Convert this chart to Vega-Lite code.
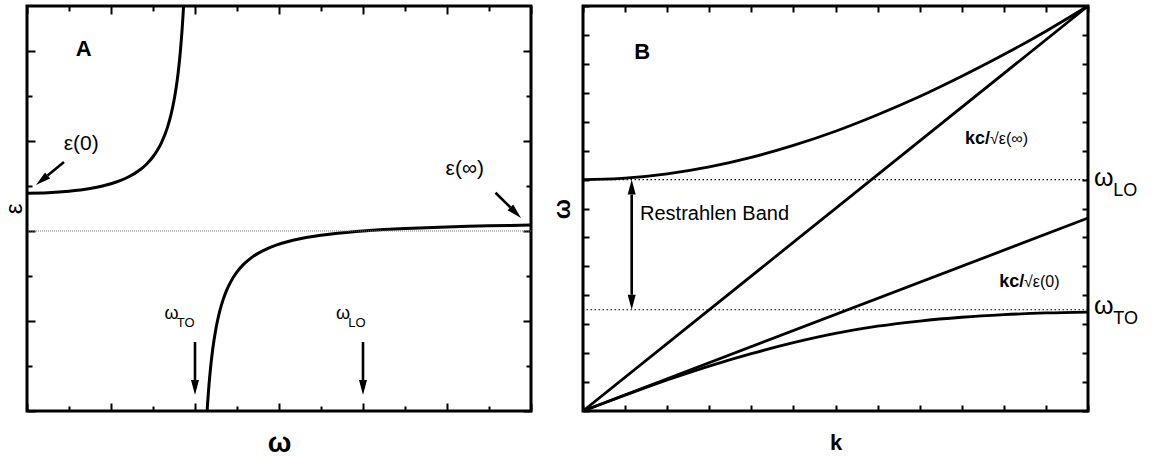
{
  "$schema": "https://vega.github.io/schema/vega-lite/v6.json",
  "background": "white",
  "padding": {"left": 0, "top": -2, "right": 5, "bottom": 5},
  "bounds": "flush",
  "spacing": 52,
  "config": {
    "font": "Liberation Sans",
    "view": {"stroke": "black", "strokeWidth": 3},
    "axis": {
      "domain": false, "grid": false, "labels": false,
      "tickColor": "black", "tickWidth": 2,
      "minExtent": 0, "maxExtent": 0,
      "titleColor": "black", "titleFont": "Liberation Sans"
    }
  },
  "hconcat": [
    {
      "width": 504,
      "height": 405,
      "resolve": {"axis": {"x": "independent", "y": "independent"}},
      "layer": [
        {
          "data": {"values": [
            {"branch": "low", "omega": 0, "eps": 0.84},
            {"branch": "low", "omega": 0.5, "eps": 0.85},
            {"branch": "low", "omega": 1, "eps": 0.882},
            {"branch": "low", "omega": 1.5, "eps": 0.943},
            {"branch": "low", "omega": 1.8, "eps": 1.0},
            {"branch": "low", "omega": 2, "eps": 1.05},
            {"branch": "low", "omega": 2.2, "eps": 1.113},
            {"branch": "low", "omega": 2.4, "eps": 1.194},
            {"branch": "low", "omega": 2.7, "eps": 1.367},
            {"branch": "low", "omega": 2.85, "eps": 1.49},
            {"branch": "low", "omega": 3.0, "eps": 1.65},
            {"branch": "low", "omega": 3.1, "eps": 1.788},
            {"branch": "low", "omega": 3.2, "eps": 1.96},
            {"branch": "low", "omega": 3.35, "eps": 2.32},
            {"branch": "low", "omega": 3.43, "eps": 2.59},
            {"branch": "low", "omega": 3.5, "eps": 2.898},
            {"branch": "low", "omega": 3.55, "eps": 3.177},
            {"branch": "low", "omega": 3.6, "eps": 3.526},
            {"branch": "low", "omega": 3.65, "eps": 3.975},
            {"branch": "low", "omega": 3.68, "eps": 4.312},
            {"branch": "low", "omega": 3.7, "eps": 4.574},
            {"branch": "low", "omega": 3.715, "eps": 4.794},
            {"branch": "low", "omega": 3.728, "eps": 5.0},
            {"branch": "high", "omega": 4.289, "eps": -4.0},
            {"branch": "high", "omega": 4.3, "eps": -3.838},
            {"branch": "high", "omega": 4.32, "eps": -3.576},
            {"branch": "high", "omega": 4.36, "eps": -3.139},
            {"branch": "high", "omega": 4.4, "eps": -2.79},
            {"branch": "high", "omega": 4.42, "eps": -2.64},
            {"branch": "high", "omega": 4.5, "eps": -2.162},
            {"branch": "high", "omega": 4.55, "eps": -1.934},
            {"branch": "high", "omega": 4.6, "eps": -1.744},
            {"branch": "high", "omega": 4.67, "eps": -1.525},
            {"branch": "high", "omega": 4.75, "eps": -1.326},
            {"branch": "high", "omega": 4.85, "eps": -1.13},
            {"branch": "high", "omega": 5.0, "eps": -0.91},
            {"branch": "high", "omega": 5.15, "eps": -0.748},
            {"branch": "high", "omega": 5.3, "eps": -0.624},
            {"branch": "high", "omega": 5.5, "eps": -0.497},
            {"branch": "high", "omega": 5.7, "eps": -0.401},
            {"branch": "high", "omega": 5.95, "eps": -0.31},
            {"branch": "high", "omega": 6.2, "eps": -0.239},
            {"branch": "high", "omega": 6.5, "eps": -0.174},
            {"branch": "high", "omega": 6.8, "eps": -0.123},
            {"branch": "high", "omega": 7.0, "eps": -0.096},
            {"branch": "high", "omega": 7.4, "eps": -0.05},
            {"branch": "high", "omega": 8.0, "eps": 0},
            {"branch": "high", "omega": 8.5, "eps": 0.031},
            {"branch": "high", "omega": 9.0, "eps": 0.055},
            {"branch": "high", "omega": 9.5, "eps": 0.074},
            {"branch": "high", "omega": 10.0, "eps": 0.09},
            {"branch": "high", "omega": 10.5, "eps": 0.103},
            {"branch": "high", "omega": 11.0, "eps": 0.114},
            {"branch": "high", "omega": 11.5, "eps": 0.123},
            {"branch": "high", "omega": 12.0, "eps": 0.131}
          ]},
          "mark": {"type": "line", "color": "black", "strokeWidth": 3, "interpolate": "monotone"},
          "encoding": {
            "x": {"field": "omega", "type": "quantitative",
                  "scale": {"domain": [0, 12], "nice": false, "zero": false},
                  "axis": {"orient": "bottom", "values": [0, 2, 4, 6, 8, 10, 12], "tickSize": -8,
                           "title": "ω", "titleFontSize": 28, "titleFontWeight": "bold", "titlePadding": 18}},
            "y": {"field": "eps", "type": "quantitative",
                  "scale": {"domain": [-4, 5], "nice": false, "zero": false},
                  "axis": {"orient": "left", "values": [-4, -2, 0, 2, 4], "tickSize": -8,
                           "title": "ε", "titleFontSize": 24, "titleFontWeight": "normal", "titlePadding": 1}},
            "detail": {"field": "branch"}
          }
        },
        {
          "data": {"values": [{"eps": 0}]},
          "mark": {"type": "rule", "color": "#777777", "strokeWidth": 1, "strokeDash": [1, 1]},
          "encoding": {"y": {"field": "eps", "type": "quantitative", "axis": null}}
        },
        {
          "data": {"values": [
            {"x1": 0.881, "y1": 1.533, "x2": 0.49, "y2": 1.233},
            {"x1": 11.155, "y1": 0.851, "x2": 11.508, "y2": 0.524},
            {"x1": 4, "y1": -2.467, "x2": 4, "y2": -3.311},
            {"x1": 8, "y1": -2.467, "x2": 8, "y2": -3.311}
          ]},
          "mark": {"type": "rule", "color": "black", "strokeWidth": 2.6},
          "encoding": {
            "x": {"field": "x1", "type": "quantitative",
                  "axis": {"orient": "top", "values": [0, 2, 4, 6, 8, 10, 12], "tickSize": -8, "title": null}},
            "x2": {"field": "x2"},
            "y": {"field": "y1", "type": "quantitative",
                  "axis": {"orient": "right", "values": [-4, -2, 0, 2, 4], "tickSize": -8, "title": null}},
            "y2": {"field": "y2"}
          }
        },
        {
          "data": {"values": [{"omega": 4, "eps": -3.644}, {"omega": 8, "eps": -3.644}]},
          "mark": {"type": "point", "shape": "M0,0L-0.4,1.5L0.4,1.5Z", "size": 400, "angle": 180,
                   "filled": true, "color": "black", "opacity": 1, "strokeWidth": 0},
          "encoding": {
            "x": {"field": "omega", "type": "quantitative",
                  "axis": {"orient": "bottom", "values": [1, 3, 5, 7, 9, 11], "tickSize": -5, "title": null}},
            "y": {"field": "eps", "type": "quantitative",
                  "axis": {"orient": "left", "values": [-3, -1, 1, 3], "tickSize": -5, "title": null}}
          }
        },
        {
          "data": {"values": [{"omega": 0.214, "eps": 1.022}]},
          "mark": {"type": "point", "shape": "M0,0L-0.4,1.5L0.4,1.5Z", "size": 400, "angle": 230.6,
                   "filled": true, "color": "black", "opacity": 1, "strokeWidth": 0},
          "encoding": {
            "x": {"field": "omega", "type": "quantitative",
                  "axis": {"orient": "top", "values": [1, 3, 5, 7, 9, 11], "tickSize": -5, "title": null}},
            "y": {"field": "eps", "type": "quantitative",
                  "axis": {"orient": "right", "values": [-3, -1, 1, 3], "tickSize": -5, "title": null}}
          }
        },
        {
          "data": {"values": [{"omega": 11.762, "eps": 0.289}]},
          "mark": {"type": "point", "shape": "M0,0L-0.4,1.5L0.4,1.5Z", "size": 400, "angle": 134.8,
                   "filled": true, "color": "black", "opacity": 1, "strokeWidth": 0},
          "encoding": {
            "x": {"field": "omega", "type": "quantitative", "axis": null},
            "y": {"field": "eps", "type": "quantitative", "axis": null}
          }
        },
        {
          "data": {"values": [{"label": "A", "omega": 1.16, "eps": 3.882}]},
          "mark": {"type": "text", "fontSize": 22, "fontWeight": "bold", "align": "left", "baseline": "alphabetic", "color": "black"},
          "encoding": {
            "x": {"field": "omega", "type": "quantitative", "axis": null},
            "y": {"field": "eps", "type": "quantitative", "axis": null},
            "text": {"field": "label"}
          }
        },
        {
          "data": {"values": [
            {"label": "ε(0)", "omega": 0.874, "eps": 1.811},
            {"label": "ε(∞)", "omega": 9.967, "eps": 1.242}
          ]},
          "mark": {"type": "text", "fontSize": 21, "align": "left", "baseline": "alphabetic", "color": "black"},
          "encoding": {
            "x": {"field": "omega", "type": "quantitative", "axis": null},
            "y": {"field": "eps", "type": "quantitative", "axis": null},
            "text": {"field": "label"}
          }
        },
        {
          "data": {"values": [
            {"label": "ω", "omega": 3.274, "eps": -1.96},
            {"label": "ω", "omega": 7.357, "eps": -1.96}
          ]},
          "mark": {"type": "text", "fontSize": 18, "align": "left", "baseline": "alphabetic", "color": "black"},
          "encoding": {
            "x": {"field": "omega", "type": "quantitative", "axis": null},
            "y": {"field": "eps", "type": "quantitative", "axis": null},
            "text": {"field": "label"}
          }
        },
        {
          "data": {"values": [
            {"label": "TO", "omega": 3.567, "eps": -2.133},
            {"label": "LO", "omega": 7.65, "eps": -2.133}
          ]},
          "mark": {"type": "text", "fontSize": 13, "align": "left", "baseline": "alphabetic", "color": "black"},
          "encoding": {
            "x": {"field": "omega", "type": "quantitative", "axis": null},
            "y": {"field": "eps", "type": "quantitative", "axis": null},
            "text": {"field": "label"}
          }
        }
      ]
    },
    {
      "width": 505,
      "height": 405,
      "resolve": {"axis": {"x": "independent", "y": "independent"}},
      "layer": [
        {
          "data": {"values": [
            {"series": "upper", "k": 0, "w": 8.0},
            {"series": "upper", "k": 0.5, "w": 8.012},
            {"series": "upper", "k": 1, "w": 8.05},
            {"series": "upper", "k": 2, "w": 8.2},
            {"series": "upper", "k": 3, "w": 8.44},
            {"series": "upper", "k": 4, "w": 8.77},
            {"series": "upper", "k": 5, "w": 9.18},
            {"series": "upper", "k": 6, "w": 9.67},
            {"series": "upper", "k": 7, "w": 10.24},
            {"series": "upper", "k": 8, "w": 10.87},
            {"series": "upper", "k": 9, "w": 11.57},
            {"series": "upper", "k": 10, "w": 12.32},
            {"series": "upper", "k": 11, "w": 13.13},
            {"series": "upper", "k": 12, "w": 14.0},
            {"series": "light_inf", "k": 0, "w": 0},
            {"series": "light_inf", "k": 12, "w": 14.0},
            {"series": "light_zero", "k": 0, "w": 0},
            {"series": "light_zero", "k": 12, "w": 6.67},
            {"series": "lower", "k": 0, "w": 0},
            {"series": "lower", "k": 0.5, "w": 0.277},
            {"series": "lower", "k": 1, "w": 0.55},
            {"series": "lower", "k": 1.5, "w": 0.815},
            {"series": "lower", "k": 2, "w": 1.07},
            {"series": "lower", "k": 3, "w": 1.55},
            {"series": "lower", "k": 4, "w": 1.98},
            {"series": "lower", "k": 5, "w": 2.36},
            {"series": "lower", "k": 6, "w": 2.68},
            {"series": "lower", "k": 7, "w": 2.93},
            {"series": "lower", "k": 8, "w": 3.11},
            {"series": "lower", "k": 9, "w": 3.24},
            {"series": "lower", "k": 10, "w": 3.33},
            {"series": "lower", "k": 11, "w": 3.39},
            {"series": "lower", "k": 12, "w": 3.42}
          ]},
          "mark": {"type": "line", "color": "black", "strokeWidth": 2.8, "interpolate": "monotone"},
          "encoding": {
            "x": {"field": "k", "type": "quantitative",
                  "scale": {"domain": [0, 12], "nice": false, "zero": false},
                  "axis": {"orient": "bottom", "values": [0, 1, 2, 3, 4, 5, 6, 7, 8, 9, 10, 11, 12], "tickSize": -6,
                           "title": "k", "titleFontSize": 22, "titleFontWeight": "bold", "titlePadding": 21}},
            "y": {"field": "w", "type": "quantitative",
                  "scale": {"domain": [0, 14], "nice": false, "zero": false},
                  "axis": {"orient": "left", "values": [0, 1, 2, 3, 4, 5, 6, 7, 8, 9, 10, 11, 12, 13, 14], "tickSize": -6,
                           "title": "ω", "titleFontSize": 24, "titleFontWeight": "bold", "titlePadding": 9}},
            "detail": {"field": "series"}
          }
        },
        {
          "data": {"values": [{"w": 8.0}, {"w": 3.5}]},
          "mark": {"type": "rule", "color": "black", "strokeWidth": 1.2, "strokeDash": [1.5, 2.5]},
          "encoding": {"y": {"field": "w", "type": "quantitative", "axis": null}}
        },
        {
          "data": {"values": [{"k": 1.157, "w1": 7.48, "w2": 4.02}]},
          "mark": {"type": "rule", "color": "black", "strokeWidth": 2.6},
          "encoding": {
            "x": {"field": "k", "type": "quantitative",
                  "axis": {"orient": "top", "values": [0, 1, 2, 3, 4, 5, 6, 7, 8, 9, 10, 11, 12], "tickSize": -6, "title": null}},
            "y": {"field": "w1", "type": "quantitative",
                  "axis": {"orient": "right", "values": [0, 1, 2, 3, 4, 5, 6, 7, 8, 9, 10, 11, 12, 13, 14], "tickSize": -6, "title": null}},
            "y2": {"field": "w2"}
          }
        },
        {
          "data": {"values": [{"k": 1.157, "w": 8.0}]},
          "mark": {"type": "point", "shape": "M0,0L-0.4,1.5L0.4,1.5Z", "size": 400, "angle": 0,
                   "filled": true, "color": "black", "opacity": 1, "strokeWidth": 0},
          "encoding": {
            "x": {"field": "k", "type": "quantitative", "axis": null},
            "y": {"field": "w", "type": "quantitative", "axis": null}
          }
        },
        {
          "data": {"values": [{"k": 1.157, "w": 3.5}]},
          "mark": {"type": "point", "shape": "M0,0L-0.4,1.5L0.4,1.5Z", "size": 400, "angle": 180,
                   "filled": true, "color": "black", "opacity": 1, "strokeWidth": 0},
          "encoding": {
            "x": {"field": "k", "type": "quantitative", "axis": null},
            "y": {"field": "w", "type": "quantitative", "axis": null}
          }
        },
        {
          "data": {"values": [{"label": "B", "k": 1.219, "w": 12.18}]},
          "mark": {"type": "text", "fontSize": 22, "fontWeight": "bold", "align": "left", "baseline": "alphabetic", "color": "black"},
          "encoding": {
            "x": {"field": "k", "type": "quantitative", "axis": null},
            "y": {"field": "w", "type": "quantitative", "axis": null},
            "text": {"field": "label"}
          }
        },
        {
          "data": {"values": [{"label": "Restrahlen Band", "k": 1.355, "w": 6.59}]},
          "mark": {"type": "text", "fontSize": 20, "align": "left", "baseline": "alphabetic", "color": "black"},
          "encoding": {
            "x": {"field": "k", "type": "quantitative", "axis": null},
            "y": {"field": "w", "type": "quantitative", "axis": null},
            "text": {"field": "label"}
          }
        },
        {
          "data": {"values": [
            {"label": "kc/", "k": 9.078, "w": 9.24},
            {"label": "kc/", "k": 9.893, "w": 4.286}
          ]},
          "mark": {"type": "text", "fontSize": 18, "fontWeight": "bold", "align": "left", "baseline": "alphabetic", "color": "black"},
          "encoding": {
            "x": {"field": "k", "type": "quantitative", "axis": null},
            "y": {"field": "w", "type": "quantitative", "axis": null},
            "text": {"field": "label"}
          }
        },
        {
          "data": {"values": [
            {"label": "√ε(∞)", "k": 9.672, "w": 9.24},
            {"label": "√ε(0)", "k": 10.48, "w": 4.286}
          ]},
          "mark": {"type": "text", "fontSize": 16, "align": "left", "baseline": "alphabetic", "color": "black"},
          "encoding": {
            "x": {"field": "k", "type": "quantitative", "axis": null},
            "y": {"field": "w", "type": "quantitative", "axis": null},
            "text": {"field": "label"}
          }
        },
        {
          "data": {"values": [
            {"label": "ω", "k": 12.14, "w": 7.777},
            {"label": "ω", "k": 12.14, "w": 3.37}
          ]},
          "mark": {"type": "text", "fontSize": 25, "align": "left", "baseline": "alphabetic", "color": "black"},
          "encoding": {
            "x": {"field": "k", "type": "quantitative", "axis": null},
            "y": {"field": "w", "type": "quantitative", "axis": null},
            "text": {"field": "label"}
          }
        },
        {
          "data": {"values": [
            {"label": "LO", "k": 12.6, "w": 7.432},
            {"label": "TO", "k": 12.6, "w": 3.018}
          ]},
          "mark": {"type": "text", "fontSize": 18, "align": "left", "baseline": "alphabetic", "color": "black"},
          "encoding": {
            "x": {"field": "k", "type": "quantitative", "axis": null},
            "y": {"field": "w", "type": "quantitative", "axis": null},
            "text": {"field": "label"}
          }
        }
      ]
    }
  ]
}
